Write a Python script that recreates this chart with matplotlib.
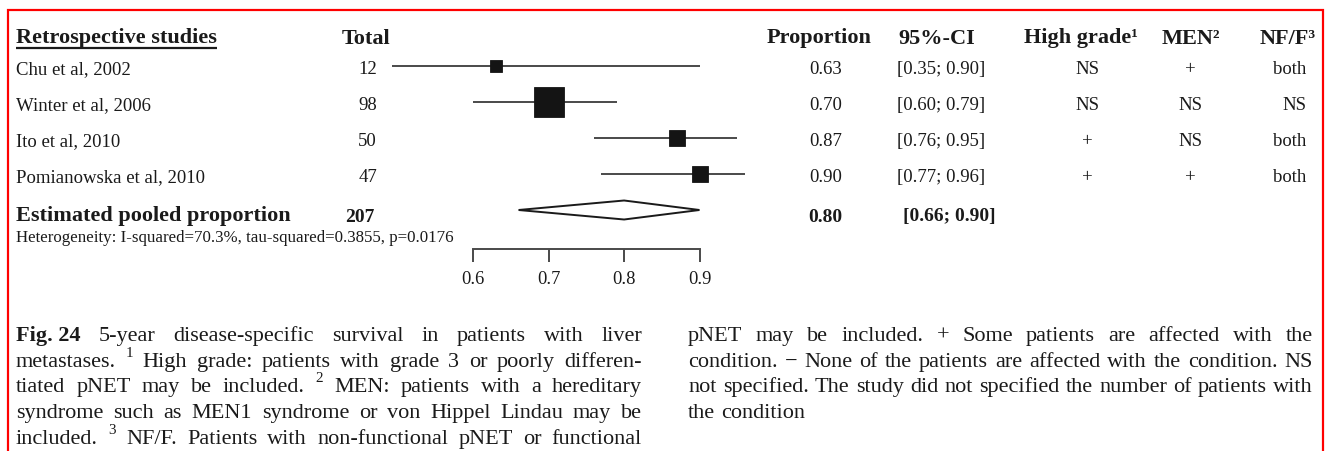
import matplotlib
matplotlib.use('Agg')
import matplotlib.pyplot as plt
import numpy as np

plt.rcParams['font.family'] = ['Liberation Serif', 'DejaVu Serif']

INK = '#1a1a1a'
LINE = '#4a4a4a'
BORDER = '#ff0000'

# Study level data
studies = ['Chu et al, 2002', 'Winter et al, 2006', 'Ito et al, 2010', 'Pomianowska et al, 2010']
totals = [12, 98, 50, 47]
proportions = [0.63, 0.70, 0.87, 0.90]
ci_low = [0.35, 0.60, 0.76, 0.77]
ci_high = [0.90, 0.79, 0.95, 0.96]
weights = [8.5, 58.7, 16.4, 16.4]
high_grade = ['NS', 'NS', '+', '+']
men = ['+', 'NS', 'NS', '+']
nf_f = ['both', 'NS', 'both', 'both']

# Pooled estimate
pooled_total = 207
pooled_prop = 0.80
pooled_low = 0.66
pooled_high = 0.90
heterogeneity = 'Heterogeneity: I-squared=70.3%, tau-squared=0.3855, p=0.0176'
axis_ticks = [0.6, 0.7, 0.8, 0.9]

# caption words: leading '*' = bold, '^' = superscript, '_' joins words
caption_left = [
    '*Fig._24 5-year disease-specific survival in patients with liver',
    'metastases. ^1 High grade: patients with grade 3 or poorly differen-',
    'tiated pNET may be included. ^2 MEN: patients with a hereditary',
    'syndrome such as MEN1 syndrome or von Hippel Lindau may be',
    'included. ^3 NF/F. Patients with non-functional pNET or functional',
]
caption_right = [
    'pNET may be included. + Some patients are affected with the',
    'condition. \u2212 None of the patients are affected with the condition. NS',
    'not specified. The study did not specified the number of patients with',
    'the condition',
]

W, H = 1331, 451
PX = 100 / 72  # pixels per point
fig = plt.figure(figsize=(W / 100, H / 100), dpi=100)
fig.patch.set_facecolor('white')
ax = fig.add_axes([0, 0, 1, 1])
ax.set_xlim(0, W)
ax.set_ylim(H, 0)
ax.axis('off')


def px_box(x0, x1, y0, y1):
    return [x0 / W, 1 - y1 / H, (x1 - x0) / W, (y1 - y0) / H]


# ---- forest panel -------------------------------------------------------
ROW0, STEP = 66, 36          # pixel row of first study, row spacing
ZERO_PX, PER_UNIT = 473.3, 754.0  # x pixel of 0.6 and pixels per 1.0
left_px, right_px, top_px, bot_px = 391.7, 760, 40, 249
fx = fig.add_axes(px_box(left_px, right_px, top_px, bot_px))
fx.set_xlim(0.6 - (ZERO_PX - left_px) / PER_UNIT, 0.6 + (right_px - ZERO_PX) / PER_UNIT)
fx.set_ylim((bot_px - ROW0) / STEP, (top_px - ROW0) / STEP)
fx.patch.set_visible(False)
for s in ['top', 'left', 'right']:
    fx.spines[s].set_visible(False)
fx.spines['bottom'].set_bounds(axis_ticks[0], axis_ticks[-1])
fx.spines['bottom'].set_color(LINE)
fx.spines['bottom'].set_linewidth(1.4)
fx.set_yticks([])
fx.set_xticks(axis_ticks)
fx.set_xticklabels([f'{t:.1f}' for t in axis_ticks])
fx.tick_params(axis='x', length=13 / PX, width=1.4, color=LINE, pad=6.5,
               labelsize=13.3, labelcolor=INK)

rows = np.arange(len(studies))
fx.hlines(rows, ci_low, ci_high, color=LINE, lw=1.4)
for r, p, w in zip(rows, proportions, weights):
    side = 3.88 * np.sqrt(w) / PX
    fx.plot(p, r, marker='s', ms=side, color='#141414', mec='#141414', mew=0.6)

pr = len(studies)
h = 9.5 / STEP
fx.fill([pooled_low, pooled_prop, pooled_high, pooled_prop],
        [pr, pr - h, pr, pr + h], facecolor='white', edgecolor=INK, lw=1.4)

# ---- table text ---------------------------------------------------------
HEAD_Y = 43.5
hdr = dict(fontsize=16, fontweight='bold', color=INK, va='baseline')
t = ax.text(16, HEAD_Y, 'Retrospective studies', ha='left', **hdr)
ax.text(342, HEAD_Y, 'Total', ha='left', **hdr)
ax.text(767, HEAD_Y, 'Proportion', ha='left', **hdr)
ax.text(898, HEAD_Y, '95%-CI', ha='left', **hdr)
ax.text(1024, HEAD_Y, 'High grade\u00b9', ha='left', **hdr)
ax.text(1162, HEAD_Y, 'MEN\u00b2', ha='left', **hdr)
ax.text(1260, HEAD_Y, 'NF/F\u00b3', ha='left', **hdr)

renderer = fig.canvas.get_renderer()
bb = t.get_window_extent(renderer)
ax.plot([bb.x0, bb.x1], [47.8, 47.8], color=INK, lw=1.6, solid_capstyle='butt')

body = dict(fontsize=13.5, color=INK, va='baseline')
for i in range(len(studies)):
    y = ROW0 + i * STEP + 8
    ax.text(16, y, studies[i], ha='left', **body)
    ax.text(377, y, f'{totals[i]}', ha='right', **body)
    ax.text(842, y, f'{proportions[i]:.2f}', ha='right', **body)
    ax.text(897, y, f'[{ci_low[i]:.2f}; {ci_high[i]:.2f}]', ha='left', **body)
    ax.text(1087, y, high_grade[i], ha='center', **body)
    ax.text(1190, y, men[i], ha='center', **body)
    ax.text(1306, y, nf_f[i], ha='right', **body)

py = 221.5
ax.text(16, py, 'Estimated pooled proportion', ha='left', **hdr)
ax.text(375, py, f'{pooled_total}', ha='right', fontsize=14, fontweight='bold',
        color=INK, va='baseline')
ax.text(842, py, f'{pooled_prop:.2f}', ha='right', fontsize=14, fontweight='bold',
        color=INK, va='baseline')
ax.text(903, py, f'[{pooled_low:.2f}; {pooled_high:.2f}]', ha='left', fontsize=14,
        fontweight='bold', color=INK, va='baseline')
ax.text(16, 242, heterogeneity, ha='left', fontsize=12.2, color=INK, va='baseline')


# ---- caption ------------------------------------------------------------
def caption_line(line, x0, x1, y, size, justify=True):
    pieces = []
    for word in line.split(' '):
        kw = dict(fontsize=size, color=INK, va='baseline', ha='left')
        dy = 0
        if word.startswith('*'):
            word = word[1:]
            kw['fontweight'] = 'bold'
        elif word.startswith('^'):
            word = word[1:]
            kw['fontsize'] = size * 0.68
            dy = -size * 0.45 * PX
        txt = ax.text(0, y + dy, word.replace('_', ' '), **kw)
        pieces.append((txt, txt.get_window_extent(renderer).width))
    total = sum(w for _, w in pieces)
    gap = size * 0.25 * PX
    if justify and len(pieces) > 1:
        gap = (x1 - x0 - total) / (len(pieces) - 1)
    x = x0
    for txt, w in pieces:
        txt.set_x(x)
        x += w + gap


CAP_SIZE = 16
CAP_Y, CAP_STEP = 341, 25.7
for i, line in enumerate(caption_left):
    caption_line(line, 16, 642, CAP_Y + i * CAP_STEP, CAP_SIZE)
for i, line in enumerate(caption_right):
    caption_line(line, 688, 1313, CAP_Y + i * CAP_STEP, CAP_SIZE,
                 justify=i < len(caption_right) - 1)

# frame
ax.plot([8, 8, 1323, 1323], [H + 5, 10, 10, H + 5], color=BORDER, lw=2 / PX * 1.1,
        clip_on=False, solid_joinstyle='miter')

fig.savefig('out.png', dpi=100, facecolor='white')
